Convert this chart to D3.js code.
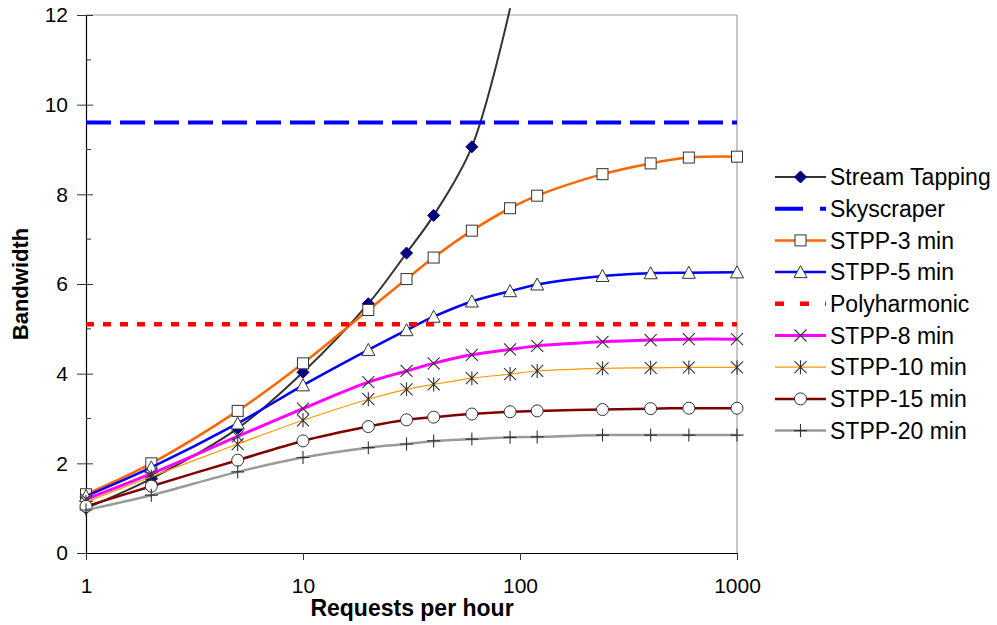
<!DOCTYPE html>
<html>
<head>
<meta charset="utf-8">
<script src="https://cdn.jsdelivr.net/npm/d3@7/dist/d3.min.js"></script>
<style>
  html, body { margin: 0; padding: 0; background: #ffffff; }
  svg { display: block; font-family: "Liberation Sans", Arial, sans-serif; }
</style>
</head>
<body>
<svg id="chart" width="997" height="625"></svg>
<script>
// ---------------- DATA ----------------
const xValues = [1, 2, 5, 10, 20, 30, 40, 60, 90, 120, 240, 400, 600, 1000];
const xTickValues = [1, 10, 100, 1000];
const yTickValues = [0, 2, 4, 6, 8, 10, 12];
const yMinorTickValues = [1, 3, 5, 7, 9, 11];

const streamTapping = [1.00, 1.66, 2.78, 4.03, 5.56, 6.69, 7.53, 9.06, 12.15];
const skyscraper = [9.6, 9.6];
const stpp3 = [1.31, 2.00, 3.17, 4.23, 5.42, 6.11, 6.59, 7.19, 7.69, 7.97, 8.45, 8.69, 8.82, 8.84];
const stpp5 = [1.27, 1.91, 2.89, 3.74, 4.53, 4.97, 5.27, 5.61, 5.84, 5.99, 6.18, 6.24, 6.25, 6.26];
const polyharmonic = [5.1, 5.1];
const stpp8 = [1.20, 1.77, 2.60, 3.22, 3.81, 4.06, 4.23, 4.42, 4.54, 4.62, 4.71, 4.75, 4.77, 4.77];
const stpp10 = [1.14, 1.70, 2.43, 2.96, 3.43, 3.65, 3.76, 3.90, 3.99, 4.06, 4.12, 4.13, 4.14, 4.14];
const stpp15 = [1.04, 1.49, 2.07, 2.50, 2.82, 2.97, 3.03, 3.10, 3.15, 3.17, 3.20, 3.22, 3.23, 3.23];
const stpp20 = [0.96, 1.29, 1.81, 2.13, 2.35, 2.43, 2.50, 2.54, 2.58, 2.59, 2.63, 2.63, 2.63, 2.63];
const flatLineX = [1, 1000];

const seriesNames = ["Stream Tapping", "Skyscraper", "STPP-3 min", "STPP-5 min", "Polyharmonic",
                     "STPP-8 min", "STPP-10 min", "STPP-15 min", "STPP-20 min"];
const xTitle = "Requests per hour";
const yTitle = "Bandwidth";

// ---------------- STYLE ----------------
const series = [
  { name: seriesNames[0], xs: xValues, ys: streamTapping, color: "#333333", width: 2, marker: "diamond", smooth: true },
  { name: seriesNames[1], xs: flatLineX, ys: skyscraper, color: "#0000ff", width: 4, dash: "25,9", legendDash: "28,17", marker: null },
  { name: seriesNames[2], xs: xValues, ys: stpp3, color: "#ff6600", width: 2.5, marker: "square", smooth: true },
  { name: seriesNames[3], xs: xValues, ys: stpp5, color: "#0000ff", width: 2.5, marker: "triangle", smooth: true },
  { name: seriesNames[4], xs: flatLineX, ys: polyharmonic, color: "#ff0000", width: 4.5, dash: "8,9", legendDash: "9,16", marker: null },
  { name: seriesNames[5], xs: xValues, ys: stpp8, color: "#ff00ff", width: 3, marker: "x", smooth: true },
  { name: seriesNames[6], xs: xValues, ys: stpp10, color: "#ff9900", width: 1.2, marker: "asterisk", smooth: true },
  { name: seriesNames[7], xs: xValues, ys: stpp15, color: "#800000", width: 2.5, marker: "circle", smooth: true },
  { name: seriesNames[8], xs: xValues, ys: stpp20, color: "#9a9a9a", width: 2.5, marker: "plus", smooth: true }
];

const svg = d3.select("#chart");
const pLeft = 86, pRight = 737, pTop = 15, pBottom = 553;

const x = d3.scaleLog().domain([1, 1000]).range([pLeft, pRight]);
const y = d3.scaleLinear().domain([0, 12]).range([pBottom, pTop]);

// plot frame (gray top/right)
svg.append("line").attr("x1", pLeft).attr("x2", pRight).attr("y1", pTop).attr("y2", pTop)
  .attr("stroke", "#a0a0a0").attr("stroke-width", 1.2);
svg.append("line").attr("x1", pRight).attr("x2", pRight).attr("y1", pTop).attr("y2", pBottom)
  .attr("stroke", "#a0a0a0").attr("stroke-width", 1.2);

// axes
const yAxis = svg.append("g").attr("transform", `translate(${pLeft},0)`)
  .call(d3.axisLeft(y).tickValues(yTickValues).tickSizeInner(9).tickSizeOuter(0).tickPadding(9).tickFormat(d3.format("d")));
yAxis.select(".domain").attr("stroke", "#000").attr("stroke-width", 1.2);
yAxis.selectAll(".tick line").attr("x1", 7).attr("stroke", "#333");
yAxis.selectAll(".tick text").attr("font-size", 21).attr("fill", "#000")
  .attr("font-family", "'Liberation Sans', Arial, sans-serif");

svg.append("g").selectAll("line").data(yMinorTickValues).join("line")
  .attr("x1", pLeft).attr("x2", pLeft + 5)
  .attr("y1", d => y(d)).attr("y2", d => y(d))
  .attr("stroke", "#333").attr("stroke-width", 1);

const xAxis = svg.append("g").attr("transform", `translate(0,${pBottom})`)
  .call(d3.axisBottom(x).tickValues(xTickValues).tickSizeInner(7).tickSizeOuter(0).tickPadding(18).tickFormat(d3.format("d")));
xAxis.select(".domain").attr("stroke", "#000").attr("stroke-width", 1.2);
xAxis.selectAll(".tick line").attr("stroke", "#333");
xAxis.selectAll(".tick text").attr("font-size", 21).attr("fill", "#000")
  .attr("font-family", "'Liberation Sans', Arial, sans-serif");

// titles
svg.append("text").attr("x", 412).attr("y", 616)
  .attr("text-anchor", "middle").attr("font-size", 23).attr("font-weight", "bold").text(xTitle);
svg.append("text").attr("transform", `translate(28,${(pTop + pBottom) / 2}) rotate(-90)`)
  .attr("text-anchor", "middle").attr("font-size", 22).attr("font-weight", "bold").text(yTitle);

// markers
function drawMarker(g, type, cx, cy) {
  const s = "#333333";
  if (type === "diamond") {
    const r = 6;
    g.append("path").attr("d", `M${cx},${cy - r}L${cx + r},${cy}L${cx},${cy + r}L${cx - r},${cy}Z`)
      .attr("fill", "#000080").attr("stroke", "#000080").attr("stroke-width", 1);
  } else if (type === "square") {
    const h = 5.5;
    g.append("rect").attr("x", cx - h).attr("y", cy - h).attr("width", 2 * h).attr("height", 2 * h)
      .attr("fill", "#fff").attr("stroke", s).attr("stroke-width", 1);
  } else if (type === "triangle") {
    const h = 6.5;
    g.append("path").attr("d", `M${cx},${cy - h}L${cx + h},${cy + h * 0.85}L${cx - h},${cy + h * 0.85}Z`)
      .attr("fill", "#fff").attr("stroke", s).attr("stroke-width", 1);
  } else if (type === "circle") {
    g.append("circle").attr("cx", cx).attr("cy", cy).attr("r", 6)
      .attr("fill", "#fff").attr("stroke", s).attr("stroke-width", 1);
  } else if (type === "x") {
    const h = 6;
    g.append("path").attr("d", `M${cx - h},${cy - h}L${cx + h},${cy + h}M${cx - h},${cy + h}L${cx + h},${cy - h}`)
      .attr("fill", "none").attr("stroke", s).attr("stroke-width", 1.1);
  } else if (type === "asterisk") {
    const h = 6;
    g.append("path").attr("d", `M${cx - h},${cy - h}L${cx + h},${cy + h}M${cx - h},${cy + h}L${cx + h},${cy - h}M${cx},${cy - h - 1}L${cx},${cy + h + 1}`)
      .attr("fill", "none").attr("stroke", s).attr("stroke-width", 1.1);
  } else if (type === "plus") {
    const h = 6.5;
    g.append("path").attr("d", `M${cx - h},${cy}L${cx + h},${cy}M${cx},${cy - h}L${cx},${cy + h}`)
      .attr("fill", "none").attr("stroke", s).attr("stroke-width", 1.1);
  }
}

const plot = svg.append("g");
series.forEach(sr => {
  const pts = sr.ys.map((v, i) => [sr.xs[i], v]);
  const line = d3.line().x(d => x(d[0])).y(d => y(d[1]))
    .curve(sr.smooth ? d3.curveCatmullRom.alpha(0.5) : d3.curveLinear);
  const g = plot.append("g");
  g.append("path").attr("d", line(pts)).attr("fill", "none")
    .attr("stroke", sr.color).attr("stroke-width", sr.width)
    .attr("stroke-dasharray", sr.dash || null).attr("stroke-linejoin", "round");
  if (sr.marker) {
    pts.filter(p => p[1] <= 12).forEach(p => drawMarker(g, sr.marker, x(p[0]), y(p[1])));
  }
});

// legend
const legend = svg.append("g");
const lx1 = 775, lx2 = 826, ltx = 830, ly0 = 177, lstep = 31.7;
series.forEach((sr, i) => {
  const yy = ly0 + i * lstep;
  const g = legend.append("g");
  g.append("line").attr("x1", lx1).attr("x2", lx2).attr("y1", yy).attr("y2", yy)
    .attr("stroke", sr.color).attr("stroke-width", sr.width)
    .attr("stroke-dasharray", sr.legendDash || null);
  if (sr.marker) drawMarker(g, sr.marker, (lx1 + lx2) / 2, yy);
  g.append("text").attr("x", ltx).attr("y", yy).attr("dy", "0.36em")
    .attr("font-size", 23).attr("fill", "#000").text(sr.name);
});
</script>
</body>
</html>
